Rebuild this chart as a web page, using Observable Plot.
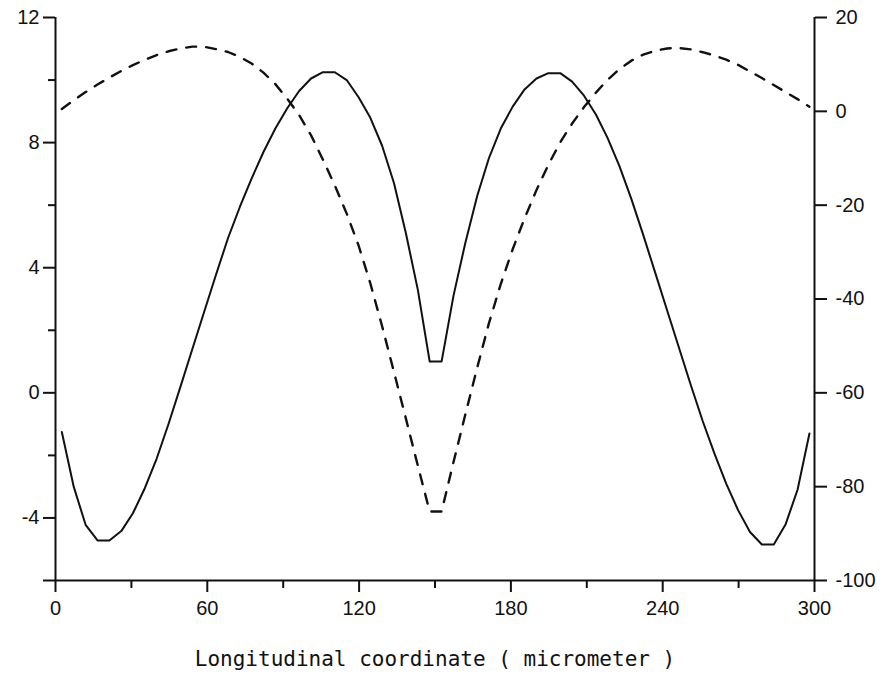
<!DOCTYPE html>
<html>
<head>
<meta charset="utf-8">
<script src="https://cdn.jsdelivr.net/npm/d3@7"></script>
<script src="https://cdn.jsdelivr.net/npm/@observablehq/plot@0.6"></script>
<style>
  html, body { margin: 0; padding: 0; background: #fff; overflow: hidden; }
  #chart svg { display: block; }
  #chart svg g[aria-label$="axis tick"] { stroke-width: 2px; }
</style>
</head>
<body>
<div id="chart"></div>
<script>
// Sample positions along the longitudinal coordinate (micrometer)
const positions = [2.5, 7.2, 11.9, 16.6, 21.3, 26.0, 30.6, 35.3, 40.0, 44.7, 49.4, 54.1, 58.8, 63.5, 68.2, 72.9,
  77.5, 82.2, 86.9, 91.6, 96.3, 101.0, 105.7, 110.4, 115.1, 119.8, 124.4, 129.1, 133.8, 138.5, 143.2, 147.9,
  152.6, 157.3, 162.0, 166.7, 171.3, 176.0, 180.7, 185.4, 190.1, 194.8, 199.5, 204.2, 208.9, 213.6, 218.2, 222.9,
  227.6, 232.3, 237.0, 241.7, 246.4, 251.1, 255.8, 260.5, 265.1, 269.8, 274.5, 279.2, 283.9, 288.6, 293.3, 298.0];

// Solid curve, read on the left axis
const leftSeries = [-1.25, -3.0, -4.22, -4.72, -4.72, -4.42, -3.85, -3.05, -2.1, -0.99, 0.2, 1.4, 2.6, 3.79, 4.95, 5.95,
  6.85, 7.7, 8.45, 9.1, 9.65, 10.05, 10.25, 10.25, 10.0, 9.45, 8.8, 7.9, 6.7, 5.1, 3.3, 1.0,
  1.0, 3.1, 4.8, 6.3, 7.5, 8.45, 9.15, 9.7, 10.05, 10.22, 10.22, 9.95, 9.5, 8.9, 8.15, 7.25,
  6.2, 5.05, 3.85, 2.65, 1.45, 0.25, -0.9, -1.95, -2.9, -3.75, -4.45, -4.85, -4.85, -4.2, -3.1, -1.3];

// Dashed curve, read on the right axis
const rightSeries = [0.5, 2.35, 4.1, 5.7, 7.2, 8.6, 9.85, 11.0, 12.0, 12.8, 13.4, 13.8, 13.75, 13.25, 12.65, 11.6,
  10.2, 8.25, 5.8, 2.7, -0.8, -5.1, -10.3, -15.8, -21.8, -28.6, -36.6, -45.8, -55.6, -65.5, -75.5, -85.3,
  -85.3, -74.8, -64.6, -54.6, -45.2, -36.8, -29.4, -22.8, -16.8, -11.4, -6.6, -2.6, 0.9, 4.0, 6.7, 9.0,
  10.8, 12.1, 12.9, 13.4, 13.5, 13.2, 12.6, 11.9, 11.0, 9.9, 8.5, 7.1, 5.6, 4.1, 2.6, 1.0];

// Axis ticks
const xTicks = [0, 60, 120, 180, 240, 300];
const xMinorTicks = [30, 90, 150, 210, 270];
const leftTicks = [12, 8, 4, 0, -4, -6];
const leftMinorTicks = [10, 6, 2, -2];
const rightTicks = [20, 0, -20, -40, -60, -80, -100];
const xLabel = "Longitudinal coordinate ( micrometer )";

const leftDomain = [-6, 12];
const rightDomain = [-100, 20];
// map right-axis values into the left-axis units
const toLeft = v => leftDomain[0] + (v - rightDomain[0]) * (leftDomain[1] - leftDomain[0]) / (rightDomain[1] - rightDomain[0]);
const fromLeft = v => rightDomain[0] + (v - leftDomain[0]) * (rightDomain[1] - rightDomain[0]) / (leftDomain[1] - leftDomain[0]);

const solidData = positions.map((x, i) => ({x, y: leftSeries[i]}));
const dashedData = positions.map((x, i) => ({x, y: toLeft(rightSeries[i])}));

const fmt = d => String(Math.round(d));

const chart = Plot.plot({
  width: 884,
  height: 680,
  marginLeft: 55,
  marginRight: 70,
  marginTop: 17,
  marginBottom: 100,
  style: {fontFamily: "'Liberation Sans', Arial, sans-serif", fontSize: "20px", background: "#fff", color: "#111"},
  x: {domain: [0, 300]},
  y: {domain: leftDomain},
  marks: [
    Plot.ruleX([0, 300], {stroke: "#111", strokeWidth: 2}),
    Plot.ruleY([-6], {stroke: "#111", strokeWidth: 2}),
    Plot.axisX({ticks: xTicks, tickSize: 12, tickPadding: 8, tickFormat: fmt, strokeWidth: 2, fontSize: 20, label: null}),
    Plot.axisX({ticks: xMinorTicks, tickSize: 8, tickFormat: () => "", strokeWidth: 2, label: null}),
    Plot.axisY({ticks: leftTicks, tickSize: 12, tickPadding: 4, tickFormat: d => d === -6 ? "" : fmt(d), strokeWidth: 2, fontSize: 20, label: null}),
    Plot.axisY({ticks: leftMinorTicks, tickSize: 7, tickFormat: () => "", strokeWidth: 2, label: null}),
    Plot.axisY({anchor: "right", ticks: rightTicks.map(toLeft), tickSize: 12, tickPadding: 9, tickFormat: d => fmt(fromLeft(d)), strokeWidth: 2, fontSize: 20, label: null}),
    Plot.line(solidData, {x: "x", y: "y", stroke: "#111", strokeWidth: 2}),
    Plot.line(dashedData, {x: "x", y: "y", stroke: "#111", strokeWidth: 2.4, strokeDasharray: "10,10"}),
    Plot.text([xLabel], {frameAnchor: "bottom", dy: 85, text: d => d, fontFamily: "'DejaVu Sans Mono', monospace", fontSize: 21, fill: "#111"})
  ]
});
document.getElementById("chart").appendChild(chart);
</script>
</body>
</html>
